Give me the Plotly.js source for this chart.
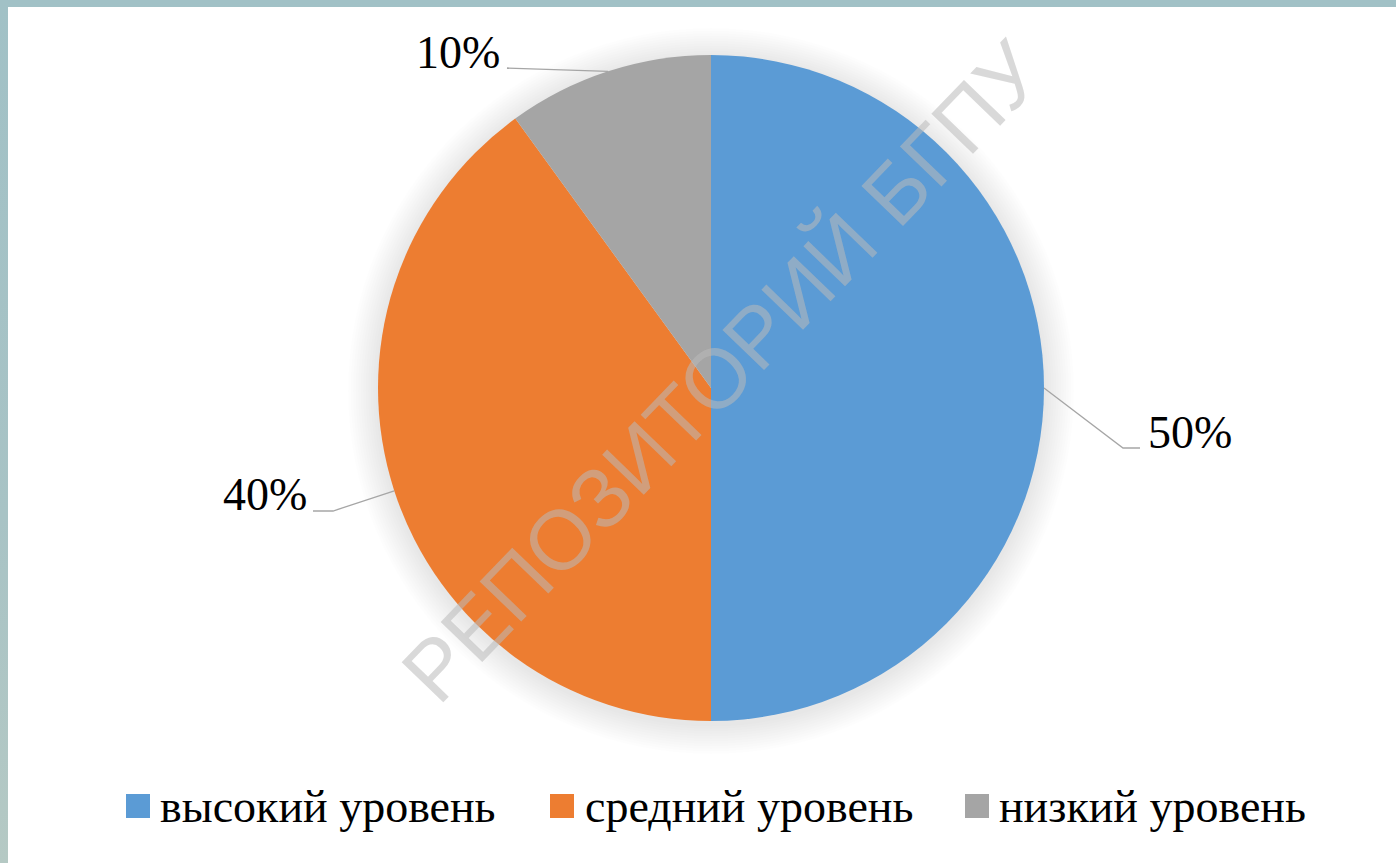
<!DOCTYPE html>
<html>
<head>
<meta charset="utf-8">
<script src="https://cdn.plot.ly/plotly-3.0.1.min.js"></script>
<style>
  html, body { margin: 0; padding: 0; width: 1396px; height: 863px; overflow: hidden;
    background: linear-gradient(180deg, #a1c1c6 0%, #a8c3c5 60%, #b5c9c4 100%); }
  #chart { position: absolute; left: 8px; top: 7px; width: 1388px; height: 856px; background: #fff; }
</style>
</head>
<body>
<div id="chart"></div>
<script>
// ---- data ----
const categories = ['высокий уровень', 'средний уровень', 'низкий уровень'];
const values = [50, 40, 10];
const colors = ['#5B9BD5', '#ED7D31', '#A5A5A5'];
const watermark = 'РЕПОЗИТОРИЙ БГПУ';

// ---- layout geometry (page pixels) ----
const W = 1388, H = 856, OX = 8, OY = 7;
const CX = 711, CY = 388, R = 333;
const px = x => (x - OX) / W;
const py = y => 1 - (y - OY) / H;
const SERIF = 'Liberation Serif';
const SANS = 'Liberation Sans';

// leader-line styling per slice: elbow point, end point, text anchor
const leaders = [
  { ex: 1123, ey: 448, tx: 1140, ty: 448, lx: 1146, ly: 432, anchor: 'left' },
  { ex: 333, ey: 511, tx: 313, ty: 511, lx: 309, ly: 494, anchor: 'right' },
  { ex: 507, ey: 68, tx: 507, ty: 68, lx: 502, ly: 52, anchor: 'right' }
];

const total = values.reduce((a, b) => a + b, 0);
const shapes = [];
const annotations = [];

// soft shadow around the pie
for (let i = 1; i <= 12; i++) {
  const r = R + i * 2.5;
  shapes.push({
    type: 'circle', xref: 'paper', yref: 'paper', layer: 'below',
    x0: px(CX - r), x1: px(CX + r), y0: py(CY + r + 3), y1: py(CY - r + 3),
    fillcolor: 'rgba(0,0,0,0.009)', line: { width: 0 }
  });
}

// leader lines + percent labels from data
let cum = 0;
values.forEach((v, i) => {
  const mid = (cum + v / 2) / total;
  cum += v;
  const ang = mid * 2 * Math.PI;
  const sx = CX + Math.sin(ang) * R;
  const sy = CY - Math.cos(ang) * R;
  const L = leaders[i];
  shapes.push({
    type: 'path', xref: 'paper', yref: 'paper', layer: 'above',
    path: `M${px(sx)},${py(sy)} L${px(L.ex)},${py(L.ey)} L${px(L.tx)},${py(L.ty)}`,
    line: { color: '#a6a6a6', width: 1.3 }
  });
  annotations.push({
    xref: 'paper', yref: 'paper', x: px(L.lx), y: py(L.ly),
    xanchor: L.anchor, yanchor: 'middle', showarrow: false,
    text: Math.round(v / total * 100) + '%',
    font: { family: SERIF, size: 46, color: '#000' }
  });
});

// custom legend
const legSq = [126, 550, 965];
const legTx = [158, 583, 997];
categories.forEach((c, i) => {
  shapes.push({
    type: 'rect', xref: 'paper', yref: 'paper',
    x0: px(legSq[i]), x1: px(legSq[i] + 24), y0: py(818), y1: py(794),
    fillcolor: colors[i], line: { width: 0 }
  });
  annotations.push({
    xref: 'paper', yref: 'paper', x: px(legTx[i]), y: py(806),
    xanchor: 'left', yanchor: 'middle', showarrow: false, text: c,
    font: { family: SERIF, size: 46, color: '#000' }
  });
});

// watermark
annotations.push({
  xref: 'paper', yref: 'paper', x: px(722), y: py(372),
  xanchor: 'center', yanchor: 'middle', showarrow: false,
  text: watermark, textangle: -46,
  font: { family: SANS, size: 84, color: 'rgba(185,185,185,0.55)' }
});

const trace = {
  type: 'pie',
  labels: categories,
  values: values,
  sort: false,
  direction: 'clockwise',
  rotation: 0,
  textinfo: 'none',
  hoverinfo: 'label+percent',
  marker: { colors: colors, line: { width: 0 } },
  domain: { x: [px(CX - R), px(CX + R)], y: [py(CY + R), py(CY - R)] },
  showlegend: false
};

Plotly.newPlot('chart', [trace], {
  width: W, height: H,
  margin: { l: 0, r: 0, t: 0, b: 0 },
  paper_bgcolor: '#ffffff',
  showlegend: false,
  shapes: shapes,
  annotations: annotations
}, { displayModeBar: false, staticPlot: true });
</script>
</body>
</html>
